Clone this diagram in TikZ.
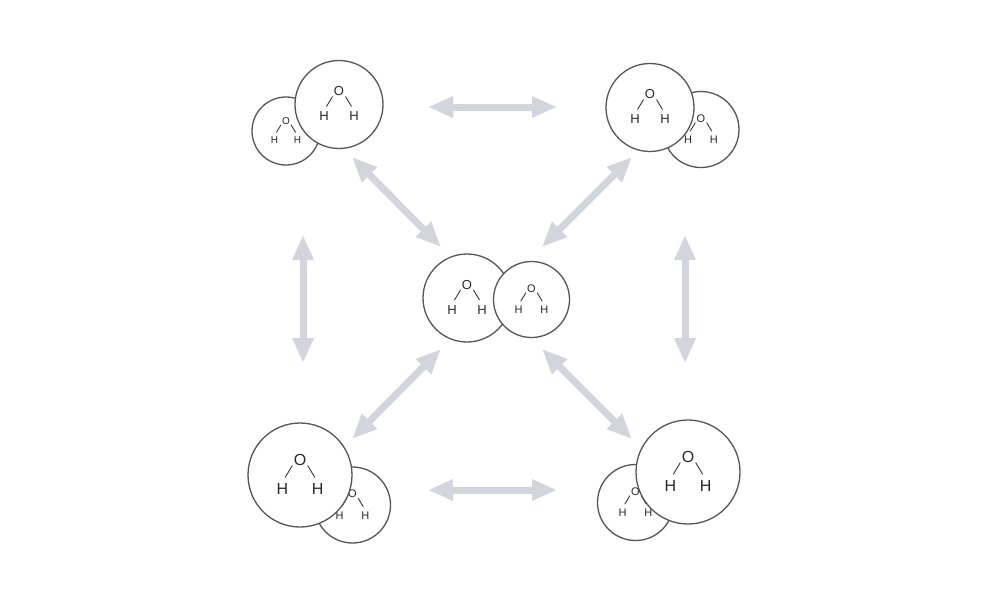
\documentclass[tikz,border=0pt]{standalone}
\usepackage{fontspec}
\setmainfont{Liberation Sans}
\usetikzlibrary{arrows.meta}
\definecolor{arr}{RGB}{210,213,220}
\definecolor{ring}{RGB}{85,85,85}
\definecolor{ink}{RGB}{40,40,40}
\tikzset{
 mol/.style={circle, draw=ring, line width=1.3pt, fill=white, inner sep=0pt, outer sep=0pt},
 atom/.style={inner sep=0pt, text=ink},
 bond/.style={draw=ink, line width=0.8pt},
 dbl/.style={draw=arr, line width=7pt, {Triangle[width=20pt,length=25pt]}-{Triangle[width=20pt,length=25pt]}},
}
\newcommand\water[5]{%
 \node[mol, minimum size=#4*2pt] (#1) at (#2,#3) {};
 \begin{scope}[shift={(#2,#3)}, scale=#4/44]
  \node[atom, font=\fontsize{#5}{#5}\selectfont] (#1-o) at (0,-13) {O};
  \node[atom, font=\fontsize{#5}{#5}\selectfont] (#1-h1) at (-15,12) {H};
  \node[atom, font=\fontsize{#5}{#5}\selectfont] (#1-h2) at (15,12) {H};
  \draw[bond] (-6.5,-8) -- (-12.5,2);
  \draw[bond] (6.5,-8) -- (12.5,2);
 \end{scope}}
\begin{document}
\begin{tikzpicture}[x=1pt,y=-1pt]
\useasboundingbox[fill=white] (0,0) rectangle (1000,600);
% arrow end points
\coordinate (tA) at (428,107); \coordinate (tB) at (557,107);
\coordinate (bA) at (428,490); \coordinate (bB) at (557,490);
\coordinate (lA) at (303,235); \coordinate (lB) at (303,363);
\coordinate (rA) at (685,235); \coordinate (rB) at (685,363);
\coordinate (d1A) at (352,157); \coordinate (d1B) at (441,247);
\coordinate (d2A) at (632,157); \coordinate (d2B) at (542,247);
\coordinate (d3A) at (441,349); \coordinate (d3B) at (352,439);
\coordinate (d4A) at (542,349); \coordinate (d4B) at (632,439);
\draw[dbl] (tA) -- (tB);
\draw[dbl] (bA) -- (bB);
\draw[dbl] (lA) -- (lB);
\draw[dbl] (rA) -- (rB);
\draw[dbl] (d1A) -- (d1B);
\draw[dbl] (d2A) -- (d2B);
\draw[dbl] (d3A) -- (d3B);
\draw[dbl] (d4A) -- (d4B);
% top-left
\water{tls}{286}{131}{34}{10}
\water{tlb}{339}{104.5}{44}{13}
% top-right
\water{trs}{701}{129.5}{38}{11}
\water{trb}{650}{107.5}{44}{13}
% center
\water{cb}{467}{298}{44}{13}
\water{cs}{531.5}{299.5}{38}{11}
% bottom-left
\water{bls}{352.5}{505}{38}{11}
\water{blb}{300}{475}{52}{16}
% bottom-right
\water{brs}{635.5}{502.5}{38}{11}
\water{brb}{688}{472}{52}{16}
\end{tikzpicture}
\end{document}
